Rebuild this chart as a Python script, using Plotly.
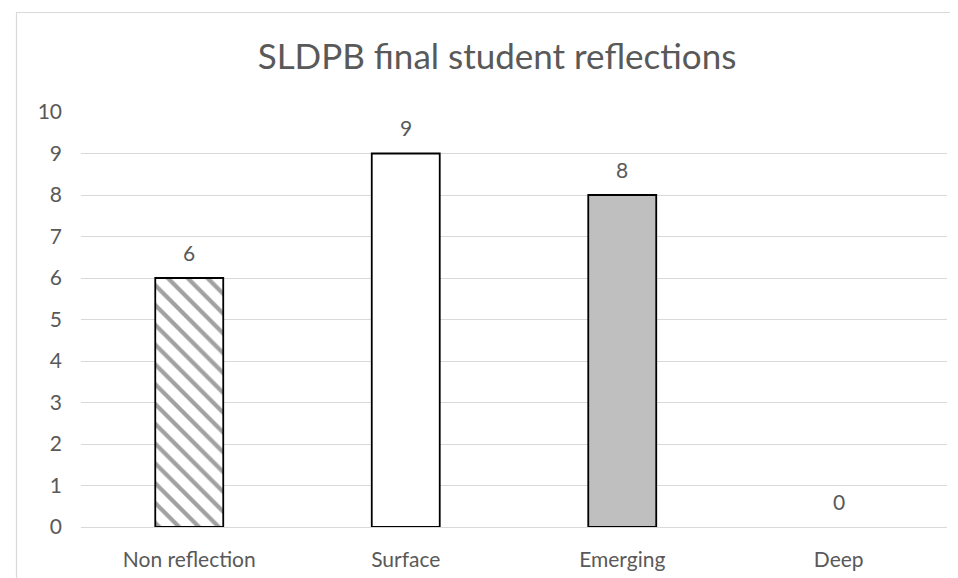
import plotly.graph_objects as go

categories = ["Non reflection", "Surface", "Emerging", "Deep"]
values = [6, 9, 8, 0]
y_ticks = [0, 1, 2, 3, 4, 5, 6, 7, 8, 9, 10]
title_text = "SLDPB final student reflections"

FONT = "Lato"
TXT = "#595959"
GRID = "#d9d9d9"

fills = ["#ffffff", "#ffffff", "#bfbfbf", "#ffffff"]
shapes_pat = ["\\", "", "", ""]
line_w = [1.8, 1.8, 1.8, 0]

fig = go.Figure()
fig.add_trace(go.Bar(
    x=categories, y=values,
    marker=dict(
        color=fills,
        line=dict(color="#000000", width=line_w),
        pattern=dict(shape=shapes_pat, fgcolor="#bfbfbf", bgcolor="#ffffff",
                     size=14, solidity=0.3, fillmode="overlay"),
    ),
    showlegend=False, hoverinfo="skip",
))

for c, v in zip(categories, values):
    fig.add_annotation(x=c, y=v, text=str(v), showarrow=False,
                       yanchor="middle", yshift=26,
                       font=dict(family=FONT, size=21, color=TXT))

W, H = 958, 578
L, R, T, B = 73, 19, 104, 59
pw, ph = W - L - R, H - T - B

def px2x(px):
    return (px - L) / pw

def py2y(py):
    return (H - B - py) / ph

fig.add_shape(type="rect", xref="paper", yref="paper",
              x0=px2x(8.5), x1=px2x(975), y0=py2y(576.5), y1=py2y(4.5),
              line=dict(color=GRID, width=1.2), fillcolor="rgba(0,0,0,0)", layer="below")

fig.update_layout(
    width=W, height=H,
    margin=dict(l=L, r=R, t=T, b=B),
    paper_bgcolor="#ffffff", plot_bgcolor="#ffffff",
    bargap=0.686,
    title=dict(text=title_text, x=489 / W, xanchor="center",
               y=1 - 49 / H, yanchor="middle",
               font=dict(family=FONT, size=35, color=TXT)),
    font=dict(family=FONT, color=TXT),
)
fig.update_yaxes(range=[0, 10], tickvals=y_ticks, showgrid=True, gridcolor=GRID,
                 gridwidth=1.3, zeroline=True, zerolinecolor=GRID, zerolinewidth=1.3,
                 showline=False, ticks="", ticklabelstandoff=18,
                 tickfont=dict(family=FONT, size=21, color=TXT), fixedrange=True)
fig.update_xaxes(showgrid=False, showline=True, linecolor=GRID, linewidth=1.3,
                 ticks="", ticklabelstandoff=14,
                 tickfont=dict(family=FONT, size=21, color=TXT), fixedrange=True)

fig.write_html("out.html")
